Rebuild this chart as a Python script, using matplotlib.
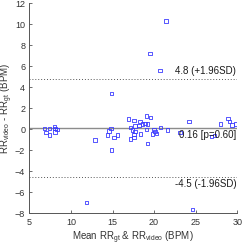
import numpy as np
import matplotlib
matplotlib.use('Agg')
import matplotlib.pyplot as plt

plt.rcParams['font.family'] = ['Liberation Sans', 'DejaVu Sans']
plt.rcParams['mathtext.default'] = 'regular'

# mean of RR_gt & RR_video vs difference (Bland-Altman)
mean_rr = [6.8, 7.0, 7.45, 7.4, 8.0, 8.1, 8.3, 8.1, 11.9, 12.9,
           14.4, 14.6, 14.8, 14.9, 14.9, 15.2, 15.6, 16.9, 17.2, 17.2,
           17.4, 17.6, 17.6, 17.6, 17.7, 17.7, 18.2, 18.3, 18.4, 18.6,
           18.9, 19.1, 19.1, 19.2, 19.2, 19.5, 19.6, 19.8, 20.0, 20.1,
           20.3, 20.7, 20.8, 21.43, 21.6, 23.1, 24.2, 24.6, 26.9, 27.3,
           28.0, 28.9, 29.1, 29.4, 29.8]
diff_rr = [0.1, -0.32, 0.1, -0.54, 0.29, -0.26, 0.0, 0.1, -6.99, -1.02,
           -0.54, -0.16, 0.05, -1.97, 3.43, -0.76, -0.54, 1.0, 0.17, -0.92,
           -0.07, 0.82, -0.48, -0.8, 0.3, -0.22, 0.34, 0.72, -0.45, 0.5,
           0.57, 1.27, 0.0, 0.5, -1.33, 7.24, 1.14, -0.45, 0.0, -0.22,
           -0.38, 5.58, 0.15, 10.29, -0.07, -0.28, 0.73, -7.62, -0.7, -0.6,
           0.5, 1.05, 0.73, 0.41, 0.5]

bias = 0.16
upper = 4.8
lower = -4.5
p_value = 0.60

fig = plt.figure(figsize=(2.45, 2.45), dpi=100)
ax = fig.add_axes([0.12, 0.129, 0.848, 0.858])

ax.scatter(mean_rr, diff_rr, marker='s', s=6, facecolors='none',
           edgecolors='#3b3bff', linewidths=0.6, zorder=3)

ax.axhline(bias, color='#8c8c8c', lw=1.0, zorder=2)
ax.axhline(upper, color='#555555', lw=0.7, ls=(0, (1, 2)))
ax.axhline(lower, color='#555555', lw=0.7, ls=(0, (1, 2)))

ax.text(29.9, upper + 0.25, '%.1f (+1.96SD)' % upper, ha='right', va='bottom', fontsize=7, color='#1a1a1a')
ax.text(29.9, bias - 0.2, '%.2f [p=%.2f]' % (bias, p_value), ha='right', va='top', fontsize=7, color='#1a1a1a')
ax.text(29.9, lower - 0.25, '%.1f (-1.96SD)' % lower, ha='right', va='top', fontsize=7, color='#1a1a1a')

ax.set_xlim(5, 30)
ax.set_ylim(-8, 12)
ax.set_xticks([5, 10, 15, 20, 25, 30])
ax.set_yticks([-8, -6, -4, -2, 0, 2, 4, 6, 8, 10, 12])

for side in ['top', 'right']:
    ax.spines[side].set_visible(False)
for side in ['left', 'bottom']:
    ax.spines[side].set_color('#555555')
    ax.spines[side].set_linewidth(0.7)
ax.tick_params(direction='in', length=2.5, width=0.6, labelsize=6.5,
               colors='#555555', labelcolor='#333333', pad=3)

ax.set_xlabel('Mean RR$_{gt}$ & RR$_{video}$ (BPM)', fontsize=7, color='#333333', labelpad=2)
ax.set_ylabel('RR$_{video}$ - RR$_{gt}$ (BPM)', fontsize=7, color='#333333')
ax.yaxis.set_label_coords(-0.07, 0.5)

plt.savefig('out.png', dpi=100)
